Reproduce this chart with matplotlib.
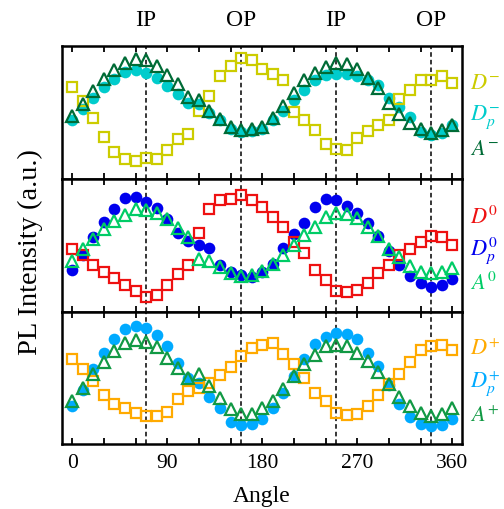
import matplotlib
matplotlib.use('Agg')
import matplotlib.pyplot as plt
import numpy as np

plt.rcParams['font.family'] = ['Liberation Serif', 'DejaVu Serif']
plt.rcParams['mathtext.fontset'] = 'stix'

angle = np.arange(0, 361, 10)
guide_angles = [70, 160, 250, 340]
guide_labels = ['IP', 'OP', 'IP', 'OP']

# intensities (a.u.)
d_minus = [92, 78, 61, 42, 27, 20, 18, 21, 20, 29, 40, 45, 68, 83, 103, 113, 121, 119, 110,
           105, 99, 67, 59, 49, 35, 30, 29, 41, 48, 54, 59, 80, 89, 99, 99, 103, 96]
dp_minus = [59, 70, 81, 92, 100, 107, 109, 106, 101, 93, 85, 76, 75, 66, 59, 50, 47, 48, 50,
            59, 68, 79, 89, 99, 104, 105, 105, 103, 99, 94, 81, 72, 62, 47, 44, 46, 54]
a_minus = [63, 75, 88, 100, 109, 116, 120, 119, 113, 104, 95, 82, 79, 68, 60, 52, 49, 50, 52,
           61, 73, 86, 99, 106, 112, 116, 115, 110, 101, 91, 76, 65, 56, 50, 46, 49, 54]

d_zero = [63, 57, 47, 40, 34, 27, 21, 15, 17, 27, 38, 47, 79, 103, 112, 113, 117, 112, 105,
          95, 85, 70, 59, 42, 32, 21, 20, 22, 29, 39, 47, 57, 63, 70, 76, 75, 67]
dp_zero = [42, 57, 75, 90, 103, 114, 115, 110, 104, 93, 79, 71, 67, 64, 47, 40, 37, 35, 40,
           48, 64, 78, 89, 105, 113, 112, 106, 99, 89, 76, 61, 47, 36, 29, 25, 27, 33]
a_zero = [51, 63, 73, 83, 91, 97, 103, 102, 99, 93, 84, 75, 53, 51, 45, 39, 36, 37, 41,
          48, 57, 67, 77, 85, 95, 99, 98, 94, 85, 76, 63, 55, 46, 40, 39, 40, 44]

d_plus = [85, 75, 63, 49, 40, 36, 31, 28, 28, 32, 45, 53, 56, 61, 69, 77, 88, 96, 99,
          101, 90, 80, 66, 51, 43, 31, 29, 30, 38, 49, 60, 70, 82, 94, 98, 99, 94]
dp_plus = [38, 54, 75, 91, 105, 115, 118, 116, 109, 98, 81, 66, 61, 47, 36, 22, 19, 20, 25,
           36, 51, 68, 85, 100, 107, 111, 110, 105, 91, 78, 59, 40, 27, 20, 18, 19, 25]
a_plus = [43, 56, 70, 82, 93, 101, 104, 102, 97, 86, 76, 66, 70, 58, 46, 35, 30, 30, 36,
          43, 55, 68, 80, 89, 98, 99, 98, 91, 83, 72, 60, 47, 38, 31, 28, 30, 36]

panels = [
    ((d_minus, dp_minus, a_minus), ('$D^{-}$', '$D_p^{-}$', '$A^{-}$'),
     ('#cccc00', '#00cccc', '#006b36')),
    ((d_zero, dp_zero, a_zero), ('$D^{0}$', '$D_p^{0}$', '$A^{0}$'),
     ('#ee1111', '#0000ee', '#00cc66')),
    ((d_plus, dp_plus, a_plus), ('$D^{+}$', '$D_p^{+}$', '$A^{+}$'),
     ('#ffaa00', '#00aaff', '#119944')),
]

fig, axes = plt.subplots(3, 1, figsize=(5.04, 5.09), dpi=100, sharex=True)
fig.subplots_adjust(left=0.1224, right=0.916, top=0.9096, bottom=0.1271, hspace=0)

for ax, (series, labels, colors) in zip(axes, panels):
    d, dp, a = series
    ax.plot(angle, d, 's', ms=7.2, mfc='none', mec=colors[0], mew=1.6, zorder=3)
    ax.plot(angle, dp, 'o', ms=8.4, color=colors[1], mec='none', zorder=2)
    ax.plot(angle, a, '^', ms=8.8, mfc='none', mec=colors[2], mew=1.6, zorder=4)
    for g in guide_angles:
        ax.axvline(g, color='black', ls='--', lw=1.1, dashes=(3, 2), zorder=1)
    for lab, col, yy in zip(labels, colors, [0.71, 0.46, 0.21]):
        ax.text(1.022, yy, lab, color=col, fontsize=16, transform=ax.transAxes,
                ha='left', va='center')
    ax.set_ylim(0, 132.8)
    ax.set_xlim(-10, 369)
    ax.set_yticks([])
    ax.set_xticks([0, 90, 180, 270, 360])
    ax.set_xticks(np.arange(0, 361, 30), minor=True)
    ax.tick_params(axis='x', which='both', direction='in', top=True, bottom=True,
                   length=4, width=1.3, labelsize=15.5, pad=7)
    for sp in ax.spines.values():
        sp.set_linewidth(1.8)

for g, lab in zip(guide_angles, guide_labels):
    axes[0].text(g, 1.195, lab, transform=axes[0].get_xaxis_transform(), ha='center',
                 va='center', fontsize=17)

axes[2].set_xlabel('Angle', fontsize=17, labelpad=9)
fig.text(0.06, 0.505, 'PL Intensity (a.u.)', rotation=90, ha='center', va='center',
         fontsize=20.5)

fig.savefig('out.png', dpi=100)
